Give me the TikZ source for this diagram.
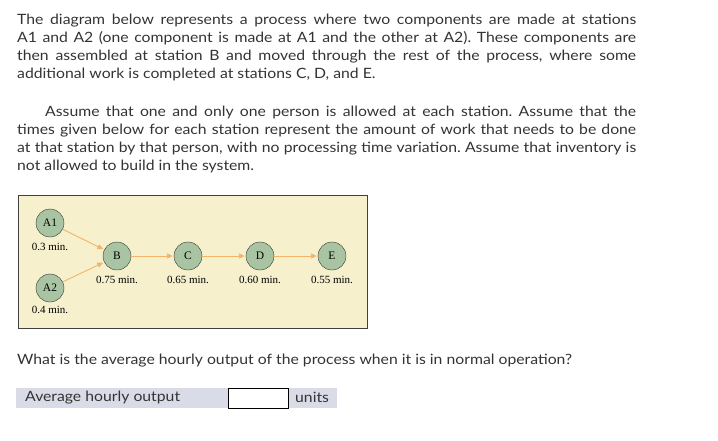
\documentclass[tikz,border=0pt]{standalone}
\usepackage{fontspec}
\setmainfont{Lato}[FakeStretch=1.11]
\newfontfamily\diagfont{Liberation Serif}
\usetikzlibrary{arrows.meta}
\frenchspacing

\definecolor{txtgray}{HTML}{333333}
\definecolor{panelbg}{HTML}{F6F0CC}
\definecolor{stationfill}{HTML}{A9C4A2}
\definecolor{flowcol}{HTML}{F2B469}
\definecolor{rowgray}{HTML}{D9DCE6}

\tikzset{
  para/.style={anchor=north west, inner sep=0pt, text width=619pt, align=justify,
    font=\fontsize{14.2}{18}\selectfont, text=txtgray},
  plain/.style={anchor=west, inner sep=0pt, text=txtgray, font=\fontsize{14.2}{18}\selectfont},
  station/.style={circle, draw=black!80, fill=stationfill, minimum size=28pt, inner sep=0pt,
    font=\diagfont\fontsize{11.5}{11}\selectfont},
  tlabel/.style={font=\diagfont\fontsize{11}{10}\selectfont, inner sep=0pt},
  flow/.style={-{Triangle[length=6pt,width=5pt]}, flowcol, line width=0.9pt, shorten >=1pt}
}

\begin{document}
\begin{tikzpicture}[x=1pt,y=-1pt]
  \useasboundingbox (0,0) rectangle (718,440);

  % question text
  \node[para] (intro) at (17,13.5) {The diagram below represents a process where two components are made at stations\linebreak
    A1 and A2 (one component is made at A1 and the other at A2). These components are\linebreak
    then assembled at station B and moved through the rest of the process, where some\linebreak
    additional work is completed at stations C, D, and E.};
  \node[para] (assume) at (17,105.5) {\hspace*{28pt}Assume that one and only one person is allowed at each station. Assume that the\linebreak
    times given below for each station represent the amount of work that needs to be done\linebreak
    at that station by that person, with no processing time variation. Assume that inventory is\linebreak
    not allowed to build in the system.};

  % process diagram
  \fill[panelbg] (18,195) rectangle (367,328);
  \draw[black!75, line width=0.8pt] (18,195) rectangle (367,328);

  \node[station] (A1) at (50,223) {A1};
  \node[station] (A2) at (50,288) {A2};
  \node[station] (B)  at (117,256) {B};
  \node[station] (C)  at (188,256) {C};
  \node[station] (D)  at (260,256) {D};
  \node[station] (E)  at (332,256) {E};

  \node[tlabel] (tA1) at (50,247) {0.3 min.};
  \node[tlabel] (tA2) at (50,310) {0.4 min.};
  \node[tlabel] (tB)  at (117,280) {0.75 min.};
  \node[tlabel] (tC)  at (188,280) {0.65 min.};
  \node[tlabel] (tD)  at (260,280) {0.60 min.};
  \node[tlabel] (tE)  at (332,280) {0.55 min.};

  \draw[flow] (A1) -- (B);
  \draw[flow] (A2) -- (B);
  \draw[flow] (B) -- (C);
  \draw[flow] (C) -- (D);
  \draw[flow] (D) -- (E);

  % answer row
  \node[plain] (ask) at (17,361)
    {What is the average hourly output of the process when it is in normal operation?};
  \fill[rowgray] (16,388) rectangle (337,408);
  \fill[white] (228,388) rectangle (288,408);
  \draw[black, line width=0.8pt] (228,388) rectangle (288,408);
  \node[plain] (avg) at (25,398) {Average hourly output};
  \node[plain] (units) at (295,397) {units};
\end{tikzpicture}
\end{document}
